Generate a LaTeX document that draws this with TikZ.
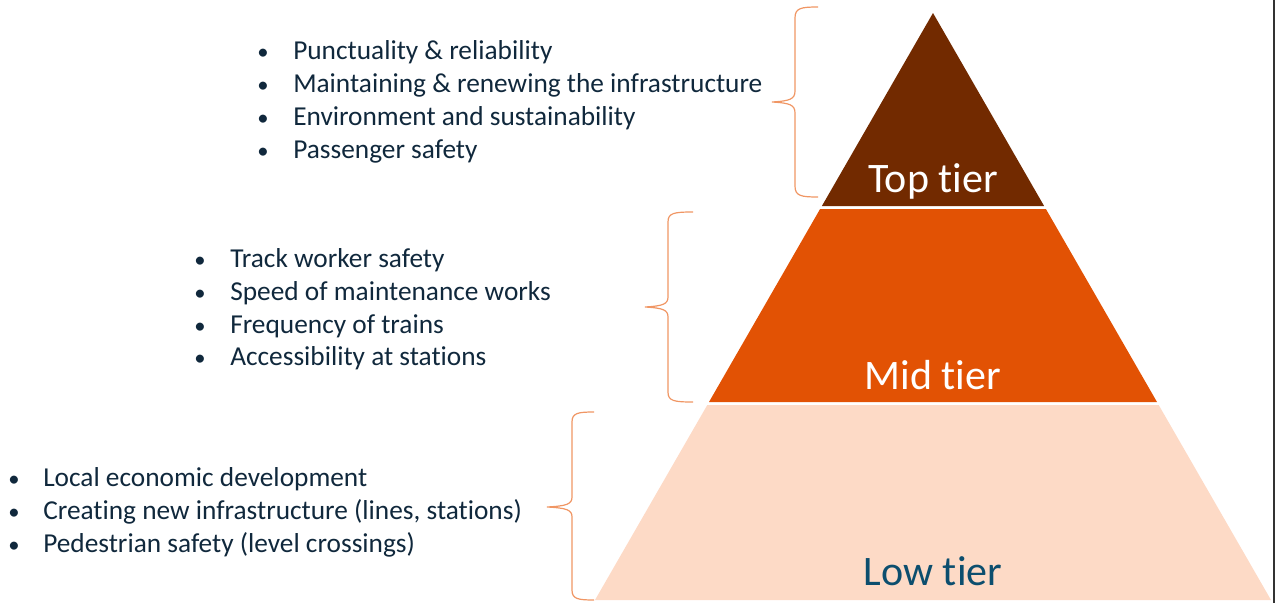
\documentclass[tikz,border=0pt]{standalone}
\usepackage{fontspec}
\setmainfont{Carlito}[Ligatures={NoCommon,NoRare,NoDiscretionary},Contextuals=NoAlternate]
\newcommand{\tI}{t\kern0pt i}
\definecolor{toptier}{RGB}{114,42,0}
\definecolor{midtier}{RGB}{226,82,4}
\definecolor{lowtier}{RGB}{253,218,198}
\definecolor{bodytext}{RGB}{16,40,60}
\definecolor{lowtext}{RGB}{12,78,110}
\definecolor{bracecol}{RGB}{240,150,100}
\begin{document}
\begin{tikzpicture}[x=0.75pt,y=-0.75pt,
  item/.style={anchor=base west,inner sep=0pt,text=bodytext,font=\fontsize{20.5pt}{24pt}\selectfont},
  bul/.style={anchor=base,inner sep=0pt,text=bodytext,font=\fontsize{17pt}{20pt}\selectfont},
  tierlabel/.style={anchor=base,inner sep=0pt,font=\fontsize{31.5pt}{36pt}\selectfont},
  bracepath/.style={draw=bracecol,line width=0.9pt}]
\useasboundingbox (0,0) rectangle (1283,603);
% pyramid
\fill[toptier] (933,13) -- (1044.1,206) -- (821.9,206) -- cycle;
\fill[midtier] (820.1,209) -- (1045.9,209) -- (1157,402) -- (709,402) -- cycle;
\fill[lowtier] (707.3,405) -- (1158.7,405) -- (1271,600) -- (595,600) -- cycle;
\node[tierlabel,text=white] (ttop) at (933,192) {Top \tI er};
\node[tierlabel,text=white] (tmid) at (933,389) {Mid \tI er};
\node[tierlabel,text=lowtext] (tlow) at (933,585) {Low \tI er};
% right border
\draw[black!80,line width=1.5pt] (1274,0) -- (1274,603);
% braces
\draw[bracepath] (818,7) .. controls (801,7) and (795,8) .. (795,18) -- (795,91) .. controls (795,99) and (790,101) .. (772,102) .. controls (790,103) and (795,105) .. (795,113) -- (795,186) .. controls (795,196) and (801,197) .. (818,197);
\draw[bracepath] (693,212) .. controls (674,212) and (668,213) .. (668,222) -- (668,297) .. controls (668,304) and (663,306) .. (645,307) .. controls (663,308) and (668,310) .. (668,317) -- (668,392) .. controls (668,401) and (674,402) .. (693,402);
\draw[bracepath] (594,412) .. controls (578,412) and (572,413) .. (572,422) -- (572,497) .. controls (572,504) and (567,506) .. (547,507) .. controls (567,508) and (572,510) .. (572,517) -- (572,590) .. controls (572,599) and (578,600) .. (594,600);
% top list
\node[bul] (b1) at (263,59) {•};
\node[item] (a1) at (293,59) {Punctuality \& reliability};
\node[bul] (b2) at (263,92) {•};
\node[item] (a2) at (293,92) {Maintaining \& renewing the infrastructure};
\node[bul] (b3) at (263,125) {•};
\node[item] (a3) at (293,125) {Environment and sustainability};
\node[bul] (b4) at (263,158) {•};
\node[item] (a4) at (293,158) {Passenger safety};
% mid list
\node[bul] (c1) at (200,267) {•};
\node[item] (m1) at (230,267) {Track worker safety};
\node[bul] (c2) at (200,300) {•};
\node[item] (m2) at (230,300) {Speed of maintenance works};
\node[bul] (c3) at (200,333) {•};
\node[item] (m3) at (230,333) {Frequency of trains};
\node[bul] (c4) at (200,365) {•};
\node[item] (m4) at (230,365) {Accessibility at sta\tI ons};
% low list
\node[bul] (d1) at (14,486) {•};
\node[item] (l1) at (43,486) {Local economic development};
\node[bul] (d2) at (14,519) {•};
\node[item] (l2) at (43,519) {Crea\tI ng new infrastructure (lines, sta\tI ons)};
\node[bul] (d3) at (14,552) {•};
\node[item] (l3) at (43,552) {Pedestrian safety (level crossings)};
\end{tikzpicture}
\end{document}
